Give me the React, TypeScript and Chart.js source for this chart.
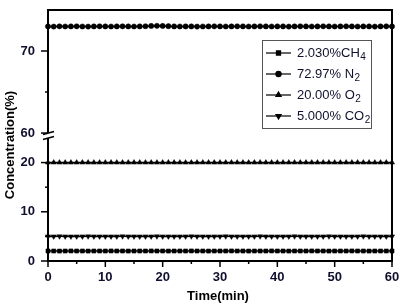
import React, { useEffect, useRef } from 'react';
import { Chart, registerables } from 'chart.js';
import { drawPoint } from 'chart.js/helpers';

Chart.register(...registerables);

// ---- data ----
const minutes = [
  0, 1, 2, 3, 4, 5, 6, 7, 8, 9,
  10, 11, 12, 13, 14, 15, 16, 17, 18, 19,
  20, 21, 22, 23, 24, 25, 26, 27, 28, 29,
  30, 31, 32, 33, 34, 35, 36, 37, 38, 39,
  40, 41, 42, 43, 44, 45, 46, 47, 48, 49,
  50, 51, 52, 53, 54, 55, 56, 57, 58, 59,
  60,
];

const ch4 = [
  2.03, 2.03, 2.02, 2.03, 2.04, 2.03, 2.03, 2.02, 2.03, 2.03,
  2.03, 2.04, 2.03, 2.03, 2.02, 2.03, 2.03, 2.03, 2.04, 2.03,
  2.03, 2.02, 2.03, 2.03, 2.03, 2.04, 2.03, 2.03, 2.02, 2.03,
  2.03, 2.03, 2.04, 2.03, 2.03, 2.02, 2.03, 2.03, 2.03, 2.04,
  2.03, 2.03, 2.02, 2.03, 2.03, 2.03, 2.04, 2.03, 2.03, 2.02,
  2.03, 2.03, 2.03, 2.04, 2.03, 2.03, 2.02, 2.03, 2.03, 2.03,
  2.03,
];

const n2 = [
  73.00, 72.98, 73.01, 72.99, 73.00, 73.01, 72.99, 72.98, 73.00, 73.01,
  73.00, 72.99, 73.00, 73.01, 73.00, 72.99, 73.00, 73.02, 73.06, 73.07,
  73.06, 73.03, 73.00, 72.99, 73.00, 73.00, 72.98, 72.99, 73.00, 73.01,
  73.00, 72.99, 73.00, 73.01, 73.00, 72.99, 73.00, 73.01, 73.00, 72.99,
  73.00, 73.00, 72.98, 73.00, 73.01, 73.00, 72.99, 73.00, 73.01, 73.00,
  72.99, 73.00, 73.01, 73.00, 72.99, 73.00, 73.00, 72.98, 73.00, 73.01,
  73.00,
];

const o2 = [
  20.00, 20.01, 20.00, 19.99, 20.00, 20.00, 20.01, 20.00, 19.99, 20.00,
  20.00, 20.01, 20.00, 20.00, 19.99, 20.00, 20.01, 20.00, 20.00, 19.99,
  20.00, 20.01, 20.00, 20.00, 19.99, 20.00, 20.00, 20.01, 20.00, 19.99,
  20.00, 20.00, 20.01, 20.00, 20.00, 19.99, 20.00, 20.01, 20.00, 20.00,
  19.99, 20.00, 20.00, 20.01, 20.00, 20.00, 19.99, 20.00, 20.01, 20.00,
  20.00, 19.99, 20.00, 20.00, 20.01, 20.00, 20.00, 19.99, 20.00, 20.01,
  20.00,
];

const co2 = [
  5.00, 5.00, 5.01, 5.00, 4.99, 5.00, 5.00, 5.01, 5.00, 5.00,
  4.99, 5.00, 5.00, 5.01, 5.00, 5.00, 4.99, 5.00, 5.00, 5.01,
  5.00, 5.00, 4.99, 5.00, 5.00, 5.01, 5.00, 5.00, 4.99, 5.00,
  5.00, 5.01, 5.00, 5.00, 4.99, 5.00, 5.00, 5.01, 5.00, 5.00,
  4.99, 5.00, 5.00, 5.01, 5.00, 5.00, 4.99, 5.00, 5.00, 5.01,
  5.00, 5.00, 4.99, 5.00, 5.00, 5.01, 5.00, 5.00, 4.99, 5.00,
  5.00,
];

const legendMain = ['2.030%CH', '72.97% N', '20.00% O', '5.000% CO'];
const legendSub = ['4', '2', '2', '2'];

const xMajor = [0, 10, 20, 30, 40, 50, 60];
const xMinor = [5, 15, 25, 35, 45, 55];
const yLowMajor = [0, 10, 20];
const yLowMinor = [5, 15];
const yHighMajor = [60, 70];
const yHighMinor = [65];

const xTitle = 'Time(min)';
const yTitle = 'Concentration(%)';

// ---- styles ----
const FONT = '"Liberation Sans", Arial, Helvetica, sans-serif';
const INK = '#10102e';

const decor = {
  id: 'decor',
  afterDraw(chart: any) {
    const ctx = chart.ctx as CanvasRenderingContext2D;
    const a = chart.chartArea;
    const sx = chart.scales.x;
    const yl = chart.scales.yLow;
    const yh = chart.scales.yHigh;
    ctx.save();
    ctx.strokeStyle = '#000';
    ctx.lineWidth = 2;
    // frame top + right
    ctx.beginPath();
    ctx.moveTo(a.left - 1, a.top);
    ctx.lineTo(a.right, a.top);
    ctx.lineTo(a.right, a.bottom + 1);
    ctx.stroke();

    // ticks
    ctx.lineWidth = 1.5;
    const tickX = (vals: number[], len: number) => {
      vals.forEach((v) => {
        const px = sx.getPixelForValue(v);
        ctx.beginPath();
        ctx.moveTo(px, a.bottom);
        ctx.lineTo(px, a.bottom + len);
        ctx.stroke();
      });
    };
    const tickY = (sc: any, vals: number[], len: number) => {
      vals.forEach((v) => {
        const py = sc.getPixelForValue(v);
        ctx.beginPath();
        ctx.moveTo(a.left, py);
        ctx.lineTo(a.left - len, py);
        ctx.stroke();
      });
    };
    tickX(xMajor, 6);
    tickX(xMinor, 3);
    tickY(yl, yLowMajor, 7);
    tickY(yl, yLowMinor, 3);
    tickY(yh, yHighMajor, 7);
    tickY(yh, yHighMinor, 3);

    // axis break marks
    const yb = yl.top;
    ctx.fillStyle = '#fff';
    ctx.beginPath();
    ctx.moveTo(43, yb - 1);
    ctx.lineTo(54, yb - 4);
    ctx.lineTo(54, yb + 1);
    ctx.lineTo(43, yb + 4);
    ctx.closePath();
    ctx.fill();
    ctx.lineWidth = 1.6;
    ctx.beginPath();
    ctx.moveTo(43, yb - 1);
    ctx.lineTo(54, yb - 4);
    ctx.moveTo(43, yb + 4);
    ctx.lineTo(54, yb + 1);
    ctx.stroke();

    // axis titles
    ctx.fillStyle = '#000';
    ctx.font = `bold 13px ${FONT}`;
    ctx.textAlign = 'center';
    ctx.textBaseline = 'middle';
    ctx.fillText(xTitle, 218, 296);
    ctx.save();
    ctx.translate(10, 145);
    ctx.rotate(-Math.PI / 2);
    ctx.fillText(yTitle, 0, 0);
    ctx.restore();

    // legend
    ctx.lineWidth = 1;
    ctx.strokeStyle = '#555';
    ctx.strokeRect(262.5, 40.5, 109, 88);
    chart.data.datasets.forEach((ds: any, i: number) => {
      const ry = 53 + i * 21;
      ctx.strokeStyle = '#000';
      ctx.lineWidth = 1.2;
      ctx.beginPath();
      ctx.moveTo(266, ry);
      ctx.lineTo(291, ry);
      ctx.stroke();
      ctx.fillStyle = '#000';
      drawPoint(ctx, {
        pointStyle: ds.pointStyle,
        radius: ds.pointRadius,
        rotation: ds.pointRotation || 0,
        borderWidth: 0.5,
      } as any, 278.5, ry);
      ctx.fillStyle = INK;
      ctx.font = `13px ${FONT}`;
      ctx.textAlign = 'left';
      ctx.textBaseline = 'middle';
      ctx.fillText(legendMain[i], 297, ry);
      const w = ctx.measureText(legendMain[i]).width;
      ctx.font = `10px ${FONT}`;
      ctx.fillText(legendSub[i], 297 + w + 0.5, ry + 4);
    });
    ctx.restore();
  },
};

const noPad = (s: any) => {
  s.paddingTop = 0;
  s.paddingBottom = 0;
  s.paddingLeft = 0;
  s.paddingRight = 0;
};

export default function App() {
  const ref = useRef<HTMLCanvasElement>(null);
  useEffect(() => {
    const canvas = ref.current!;
    const mk = (label: string, data: number[], axis: string, style: string, r: number, rot = 0) => ({
      label,
      data,
      yAxisID: axis,
      borderColor: '#000',
      backgroundColor: '#000',
      borderWidth: 1.5,
      pointStyle: style,
      pointRadius: r,
      pointRotation: rot,
      pointBorderWidth: 0.5,
      pointBackgroundColor: '#000',
      pointBorderColor: '#000',
      tension: 0,
      clip: false as any,
    });
    const tickFont = { family: FONT, size: 13, weight: 'bold' as const };
    const chart = new Chart(canvas, {
      type: 'line',
      data: {
        labels: minutes,
        datasets: [
          mk('2.030%CH4', ch4, 'yLow', 'rect', 2.9),
          mk('72.97% N2', n2, 'yHigh', 'circle', 2.6),
          mk('20.00% O2', o2, 'yLow', 'triangle', 3),
          mk('5.000% CO2', co2, 'yLow', 'triangle', 3, 180),
        ] as any,
      },
      options: {
        animation: false,
        responsive: false,
        maintainAspectRatio: false,
        layout: { padding: { top: 10, right: 10, left: 0, bottom: 0 } },
        plugins: { legend: { display: false }, tooltip: { enabled: false } },
        scales: {
          x: {
            type: 'linear',
            position: 'bottom',
            min: 0,
            max: 60,
            afterBuildTicks: (s: any) => { s.ticks = xMajor.map((v) => ({ value: v })); },
            afterFit: (s: any) => { s.height = 45; noPad(s); },
            grid: { display: false, drawTicks: false },
            border: { display: true, color: '#000', width: 2 },
            ticks: { font: tickFont, color: INK, padding: 9, maxRotation: 0 },
          },
          yLow: {
            type: 'linear',
            position: 'left',
            stack: 'y',
            stackWeight: 1,
            min: 0,
            max: 25.5,
            afterBuildTicks: (s: any) => { s.ticks = yLowMajor.map((v) => ({ value: v })); },
            afterFit: (s: any) => { s.width = 48; noPad(s); },
            grid: { display: false, drawTicks: false },
            border: { display: true, color: '#000', width: 2 },
            ticks: { font: tickFont, color: INK, padding: 13 },
          },
          yHigh: {
            type: 'linear',
            position: 'left',
            stack: 'y',
            stackWeight: 1,
            min: 59.7,
            max: 75,
            afterBuildTicks: (s: any) => { s.ticks = yHighMajor.map((v) => ({ value: v })); },
            afterFit: (s: any) => { s.width = 48; noPad(s); },
            grid: { display: false, drawTicks: false },
            border: { display: true, color: '#000', width: 2 },
            ticks: { font: tickFont, color: INK, padding: 13 },
          },
        } as any,
      },
      plugins: [decor],
    });
    return () => chart.destroy();
  }, []);
  return (
    <div style={{ position: 'fixed', left: 0, top: 0, width: 402, height: 306, background: '#fff' }}>
      <canvas ref={ref} width={402} height={306} style={{ width: 402, height: 306, display: 'block' }} />
    </div>
  );
}
